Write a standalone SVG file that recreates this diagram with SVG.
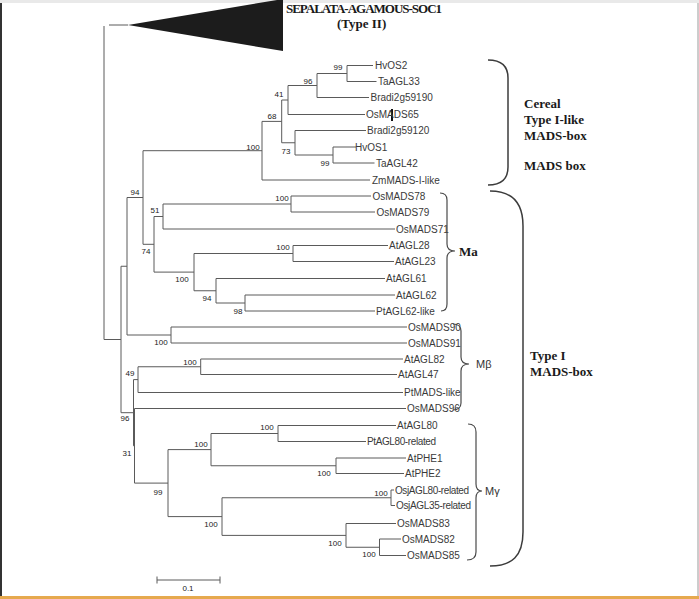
<svg xmlns="http://www.w3.org/2000/svg" width="699" height="599" viewBox="0 0 699 599">
<style>
.br{fill:none;stroke:#5a5a5a;stroke-width:1}
.brk{fill:none;stroke:#4a4a4a;stroke-width:1.2}
.bigbrk{fill:none;stroke:#3c3c3c;stroke-width:1.5}
.leaf{font-family:"Liberation Sans",Arial,sans-serif;font-size:10px;fill:#3a3a3a}
.bs{font-family:"Liberation Sans",Arial,sans-serif;font-size:8px;fill:#222;text-anchor:middle}
.hdr{font-family:"Liberation Serif","Times New Roman",serif;font-size:13px;font-weight:bold;fill:#1a1a1a}
.grp{font-family:"Liberation Sans",Arial,sans-serif;font-size:11px;fill:#333}
</style>
<rect x="0" y="0" width="699" height="599" fill="#ffffff"/>
<rect x="0" y="0" width="699" height="3" fill="#e9e9e9"/>
<line x1="1" y1="3" x2="1" y2="596" stroke="#333" stroke-width="2"/>
<line x1="698" y1="3" x2="698" y2="596" stroke="#9a9a9a" stroke-width="1"/>
<rect x="0" y="596" width="699" height="3" fill="#e6a94e"/>

<g id="connectors">
<path class="br" d="M109,25H128 M104,26V339.5H121
M121,266.25V412.7 M121,266.25H127 M121,412.7H133.5
M127,197.5V335 M127,197.5H143 M127,335H171
M143,150.7V244.3 M143,150.7H262 M143,244.3H154
M262,121.4V180 M262,121.4H281.7 M262,180H370
M281.7,100V142.75 M281.7,100H288 M281.7,142.75H295
M288,85.5V114.5 M288,85.5H317 M288,114.5H365
M317,73.5V97.5 M317,73.5H347 M317,97.5H369
M347,65.5V81.5 M347,65.5H373 M347,81.5H376.5
M295,130.5V155 M295,130.5H366 M295,155H333
M333,147V163 M333,147H356 M333,163H374.5
M154,216.5V272.1 M154,216.5H163 M154,272.1H194
M163,204V229 M163,204H291 M163,229H395
M291,196V212 M291,196H371 M291,212H375
M194,253.5V290.75 M194,253.5H293 M194,290.75H216
M293,245.5V261.5 M293,245.5H388 M293,261.5H394
M216,278.5V303 M216,278.5H385 M216,303H245
M245,295V311 M245,295H395 M245,311H375
M171,327V343 M171,327H407 M171,343H407
M133.5,379.6V445.8 M133.5,379.6H138 M133.5,445.8H134.5
M138,366.75V392.5 M138,366.75H200.7 M138,392.5H403
M200.7,359V374.5 M200.7,359H403 M200.7,374.5H397
M134.5,408.5V483.1 M134.5,408.5H406 M134.5,483.1H168
M168,449.6V516.6 M168,449.6H211 M168,516.6H222
M211,433.5V465.75 M211,433.5H278 M211,465.75H336
M278,425.5V441.5 M278,425.5H396 M278,441.5H366
M336,458V473.5 M336,458H406 M336,473.5H404
M222,497.75V535.4 M222,497.75H391 M222,535.4H346
M391,490V505.5 M391,490H394 M391,505.5H395
M346,523.5V547.25 M346,523.5H396 M346,547.25H379.5
M379.5,539V555.5 M379.5,539H401 M379.5,555.5H406"/>
<rect x="391" y="109" width="2" height="12" fill="#111"/>
</g>

<g id="bootstrap">
<text class="bs" x="338" y="69.5">99</text>
<text class="bs" x="308" y="84">96</text>
<text class="bs" x="279" y="97">41</text>
<text class="bs" x="272" y="119">68</text>
<text class="bs" x="253" y="149.5">100</text>
<text class="bs" x="286" y="154">73</text>
<text class="bs" x="325" y="166">99</text>
<text class="bs" x="135" y="194.5">94</text>
<text class="bs" x="155" y="213">51</text>
<text class="bs" x="146" y="254">74</text>
<text class="bs" x="282" y="201">100</text>
<text class="bs" x="283" y="249.5">100</text>
<text class="bs" x="182" y="282">100</text>
<text class="bs" x="207" y="301">94</text>
<text class="bs" x="238" y="313.5">98</text>
<text class="bs" x="161" y="345">100</text>
<text class="bs" x="190" y="365">100</text>
<text class="bs" x="130" y="376">49</text>
<text class="bs" x="125" y="421">96</text>
<text class="bs" x="127" y="456">31</text>
<text class="bs" x="267" y="430">100</text>
<text class="bs" x="201" y="446.5">100</text>
<text class="bs" x="158" y="495">99</text>
<text class="bs" x="324" y="476">100</text>
<text class="bs" x="211" y="527">100</text>
<text class="bs" x="381" y="496">100</text>
<text class="bs" x="335" y="546">100</text>
<text class="bs" x="369" y="557">100</text>
</g>

<g id="node-soc1">
<polygon points="128,25 283,-1 283,51" fill="#1c1c1c"/>
<text class="hdr" x="286" y="13" font-size="11" textLength="156">SEPALATA-AGAMOUS-SOC1</text>
<text class="hdr" x="337" y="27.5" font-size="11">(Type II)</text>
</g>

<g id="node-HvOS2"><text class="leaf" x="375" y="69">HvOS2</text></g>
<g id="node-TaAGL33"><text class="leaf" x="378" y="85">TaAGL33</text></g>
<g id="node-Bradi2g59190"><text class="leaf" x="370.5" y="101">Bradi2g59190</text></g>
<g id="node-OsMADS65"><text class="leaf" x="366" y="118">OsMADS65</text></g>
<g id="node-Bradi2g59120"><text class="leaf" x="367" y="134">Bradi2g59120</text></g>
<g id="node-HvOS1"><text class="leaf" x="355" y="150.5">HvOS1</text></g>
<g id="node-TaAGL42"><text class="leaf" x="376" y="166.5">TaAGL42</text></g>
<g id="node-ZmMADS-I-like"><text class="leaf" x="372" y="183.5">ZmMADS-I-like</text></g>

<g id="node-OsMADS78"><text class="leaf" x="372.5" y="199.5">OsMADS78</text></g>
<g id="node-OsMADS79"><text class="leaf" x="376.5" y="215.5">OsMADS79</text></g>
<g id="node-OsMADS71"><text class="leaf" x="396" y="232.5">OsMADS71</text></g>
<g id="node-AtAGL28"><text class="leaf" x="389" y="249">AtAGL28</text></g>
<g id="node-AtAGL23"><text class="leaf" x="395" y="265">AtAGL23</text></g>
<g id="node-AtAGL61"><text class="leaf" x="386" y="282">AtAGL61</text></g>
<g id="node-AtAGL62"><text class="leaf" x="396" y="298.5">AtAGL62</text></g>
<g id="node-PtAGL62-like"><text class="leaf" x="376" y="314.5">PtAGL62-like</text></g>

<g id="node-OsMADS90"><text class="leaf" x="408" y="330.5">OsMADS90</text></g>
<g id="node-OsMADS91"><text class="leaf" x="408" y="346.5">OsMADS91</text></g>
<g id="node-AtAGL82"><text class="leaf" x="404" y="362.5">AtAGL82</text></g>
<g id="node-AtAGL47"><text class="leaf" x="398" y="378">AtAGL47</text></g>
<g id="node-PtMADS-like"><text class="leaf" x="404" y="396">PtMADS-like</text></g>
<g id="node-OsMADS96"><text class="leaf" x="407" y="412">OsMADS96</text></g>

<g id="node-AtAGL80"><text class="leaf" x="397" y="429">AtAGL80</text></g>
<g id="node-PtAGL80-related"><text class="leaf" x="367" y="445" textLength="69">PtAGL80-related</text></g>
<g id="node-AtPHE1"><text class="leaf" x="407" y="461.5">AtPHE1</text></g>
<g id="node-AtPHE2"><text class="leaf" x="405" y="477">AtPHE2</text></g>
<g id="node-OsjAGL80-related"><text class="leaf" x="395" y="493.5" textLength="74">OsjAGL80-related</text></g>
<g id="node-OsjAGL35-related"><text class="leaf" x="396" y="509" textLength="75">OsjAGL35-related</text></g>
<g id="node-OsMADS83"><text class="leaf" x="397" y="527">OsMADS83</text></g>
<g id="node-OsMADS82"><text class="leaf" x="402" y="542.5">OsMADS82</text></g>
<g id="node-OsMADS85"><text class="leaf" x="407" y="559">OsMADS85</text></g>

<g id="group-cereal">
<path class="bigbrk" d="M488,60 C501,60 508,66 508,78 L508,167 C508,179 501,185 488,185"/>
<text class="hdr" x="524" y="108">Cereal</text>
<text class="hdr" x="524" y="124">Type I-like</text>
<text class="hdr" x="524" y="140">MADS-box</text>
<text class="hdr" x="524" y="170">MADS box</text>
</g>
<g id="group-typeI">
<path class="bigbrk" d="M490,191 C512,191 523,202 523,226 L523,532 C523,556 512,566 490,566"/>
<text class="hdr" x="530" y="360">Type I</text>
<text class="hdr" x="530" y="376">MADS-box</text>
</g>
<g id="group-Ma">
<path class="brk" d="M440,193 C445,193 447,196 447,200 L447,244 C447,249 450,251 455,251 C450,251 447,253 447,258 L447,304 C447,308 445,311 441,311"/>
<text class="hdr" x="459" y="255.5" font-size="11">Ma</text>
</g>
<g id="group-Mbeta">
<path class="brk" d="M453,324 C458,324 461,327 461,331 L461,357 C461,362 464,364 469,364 C464,364 461,366 461,371 L461,403 C461,407 458,410 453,410"/>
<text class="grp" x="476" y="368">Mβ</text>
</g>
<g id="group-Mgamma">
<path class="brk" d="M468,424 C473,424 476,427 476,432 L476,484 C476,489 479,491 482,491 C479,491 476,493 476,498 L476,552 C476,557 473,560 467,560"/>
<text class="grp" x="485" y="495">Mγ</text>
</g>

<g id="scale-bar">
<path class="br" d="M157,580H220 M157,576.5V583.5 M220,576.5V583.5" stroke="#333"/>
<text class="bs" x="188" y="591">0.1</text>
</g>
</svg>
